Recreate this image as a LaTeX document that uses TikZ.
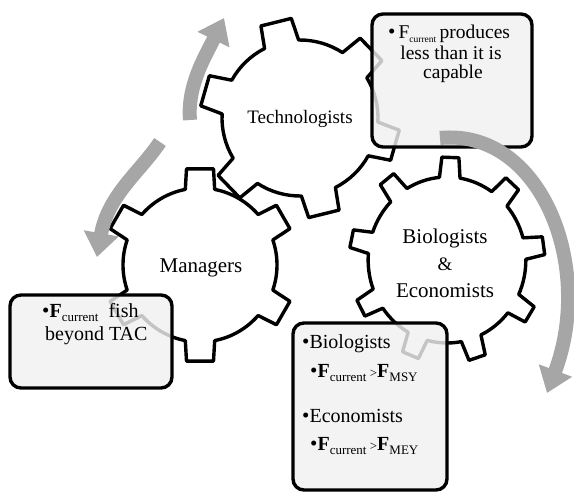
\documentclass[tikz,border=0pt]{standalone}
\usepackage{fontspec}
\setmainfont{Liberation Serif}
\usetikzlibrary{arrows.meta}
\definecolor{arrowgray}{RGB}{166,166,166}
\definecolor{boxfill}{RGB}{240,240,240}
\tikzset{
  gearline/.style={line width=3.4pt, line join=round, draw=black},
  infobox/.style={draw=black, line width=3.4pt, rounded corners=11pt, fill=boxfill, fill opacity=0.82},
  cyclearrow/.style={draw=arrowgray, line width=14pt, -{Triangle[width=34pt,length=24pt]}},
  lbl/.style={inner sep=0pt, font=\fontsize{21}{24}\selectfont},
  boxtxt/.style={inner sep=0pt, font=\fontsize{20}{22}\selectfont},
}
\newcommand\bul{{\fontsize{21}{21}\selectfont\raisebox{-0.5pt}{\textbullet}}}
\newcommand\subtxt[2][10]{\raisebox{-4pt}{\fontsize{#1}{#1}\selectfont #2}}
\newcommand\drawgear[9]{%
  \begin{scope}[shift={(#1,#2)}, xscale=#9]
    \pgfmathsetmacro\gstep{360/#3}
    \draw[gearline] ({#4-#8}:#5)
      \foreach \k in {1,...,#3}{
        -- ({#4+(\k-1)*\gstep-#8}:#5)
        -- ({#4+(\k-1)*\gstep-#7}:#6)
        -- ({#4+(\k-1)*\gstep+#7}:#6)
        -- ({#4+(\k-1)*\gstep+#8}:#5)
        arc[start angle={#4+(\k-1)*\gstep+#8}, end angle={#4+\k*\gstep-#8}, radius=#5]
      } -- cycle;
  \end{scope}}
\begin{document}
\begin{tikzpicture}[x=1pt,y=-1pt]
\useasboundingbox (0,0) rectangle (574,491);
% gears
\drawgear{300}{118}{6}{-104}{78}{100}{9}{13}{1}
\drawgear{200}{265}{6}{-90}{77}{97}{8}{11}{1}
\drawgear{447}{260}{9}{-88}{83}{103}{5}{7.5}{0.95}
% gear labels
\node[lbl, font=\fontsize{19}{22}\selectfont, anchor=base] (tech) at (300,123) {Technologists};
\node[lbl, anchor=base] (mgr) at (201,272) {Managers};
\node[lbl, anchor=base] (bio) at (445,243) {Biologists};
\node[lbl, font=\fontsize{19}{22}\selectfont, anchor=base] (amp) at (445,270) {\&};
\node[lbl, anchor=base] (eco) at (445,297) {Economists};
% boxes
\draw[infobox] (372,14) rectangle (532,147);
\draw[infobox] (10,295) rectangle (172,388);
\draw[infobox] (293,323) rectangle (447,490);
% box texts
\node[boxtxt, font=\fontsize{19.5}{22}\selectfont, anchor=base] (tr1) at (449,38) {\bul\,F\subtxt[9.5]{current}\,produces};
\node[boxtxt, font=\fontsize{19.5}{22}\selectfont, anchor=base] (tr2) at (451,59) {less than it is};
\node[boxtxt, font=\fontsize{19.5}{22}\selectfont, anchor=base] (tr3) at (453,78) {capable};
\node[boxtxt, anchor=base west] (lb1) at (42,317) {\bul\textbf{F}\subtxt[13]{current}\ \ fish};
\node[boxtxt, anchor=base west] (lb2) at (45,340) {beyond TAC};
\node[boxtxt, anchor=base west] (bb1) at (302,348) {\bul Biologists};
\node[boxtxt, anchor=base west] (bb2) at (310,377) {\bul\textbf{F}\subtxt[13]{current}\,{\fontsize{13}{13}\selectfont >}\textbf{F}\subtxt[13]{MSY}};
\node[boxtxt, anchor=base west] (bb3) at (302,422) {\bul Economists};
\node[boxtxt, anchor=base west] (bb4) at (310,450) {\bul\textbf{F}\subtxt[13]{current}\,{\fontsize{13}{13}\selectfont >}\textbf{F}\subtxt[13]{MEY}};
% cycle arrows
\draw[cyclearrow] (190,120) .. controls (187,85) and (206,55) .. (224,18);
\draw[cyclearrow] (160,142) .. controls (140,172) and (108,195) .. (97,257);
\draw[cyclearrow] (440,138) .. controls (540,128) and (595,265) .. (547,393);
\end{tikzpicture}
\end{document}
